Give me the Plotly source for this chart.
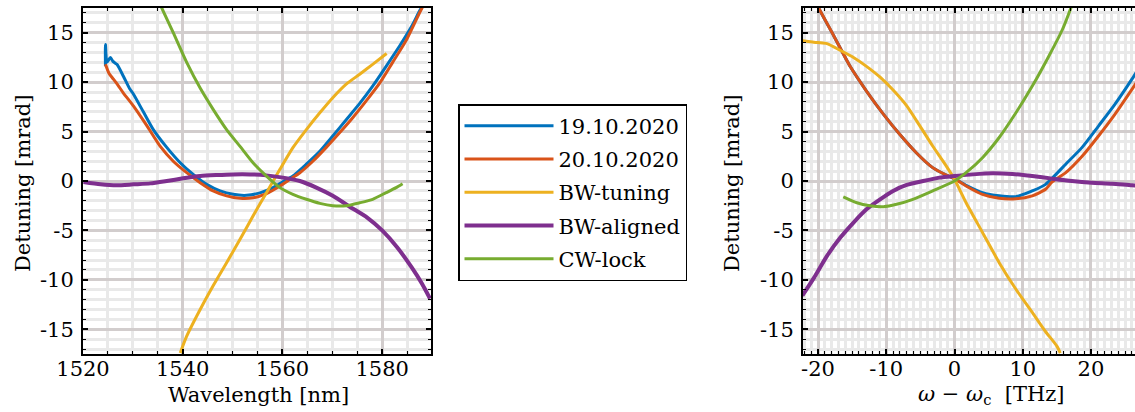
import plotly.graph_objects as go

# ---- Detuning vs. wavelength (left panel) ----
wl_0919 = [1524.5, 1524.5, 1524.8, 1525.5, 1526.0, 1526.8, 1528.1, 1529.4, 1530.1, 1532.1,
           1534.1, 1536.8, 1539.5, 1542.1, 1544.8, 1547.5, 1550.1, 1552.8, 1555.5, 1558.1,
           1560.0, 1562.1, 1564.8, 1567.5, 1570.1, 1572.8, 1575.5, 1578.1, 1580.8, 1583.5,
           1586.1, 1587.5, 1588.5]
det_0919 = [11.6, 13.8, 12.0, 12.5, 12.1, 11.8, 10.6, 9.3, 8.8, 7.0,
            5.2, 3.4, 1.85, 0.67, -0.34, -1.0, -1.35, -1.45, -1.2, -0.67,
            -0.1, 0.5, 1.7, 3.0, 4.55, 6.2, 7.85, 9.6, 11.6, 13.65,
            15.8, 17.2, 18.0]

wl_2010 = [1524.5, 1525.2, 1526.1, 1527.0, 1528.1, 1530.1, 1532.8, 1535.5, 1538.1, 1540.8,
           1543.5, 1546.1, 1548.8, 1551.5, 1554.1, 1556.8, 1559.5, 1561.5, 1563.5, 1566.1,
           1568.8, 1571.5, 1574.1, 1576.8, 1579.5, 1582.1, 1584.8, 1587.5, 1588.5]
det_2010 = [11.8, 10.9, 10.3, 9.7, 8.9, 7.6, 5.6, 3.5, 2.0, 0.84,
            -0.17, -1.0, -1.5, -1.75, -1.7, -1.28, -0.5, 0.17, 0.84, 2.0,
            3.4, 4.9, 6.4, 8.1, 9.9, 12.0, 14.2, 17.0, 18.0]

wl_bwt = [1539.5, 1540.8, 1543.5, 1546.1, 1548.8, 1551.5, 1554.1, 1556.8, 1559.5, 1562.1,
          1564.8, 1567.5, 1570.1, 1572.8, 1575.5, 1578.1, 1580.9]
det_bwt = [-17.4, -15.7, -13.0, -10.6, -8.26, -5.9, -3.54, -1.18, 1.18, 3.37,
           5.2, 6.9, 8.43, 9.8, 10.8, 11.8, 12.9]

wl_bwa = [1520.1, 1523.5, 1526.8, 1530.1, 1533.5, 1536.8, 1540.1, 1543.5, 1546.8, 1550.1,
          1553.5, 1556.8, 1560.1, 1563.5, 1566.8, 1570.1, 1573.5, 1577.0, 1580.0, 1583.0,
          1586.0, 1588.0, 1589.6]
det_bwa = [-0.1, -0.34, -0.44, -0.34, -0.24, 0.0, 0.27, 0.5, 0.6, 0.67,
           0.67, 0.57, 0.34, 0.0, -0.67, -1.5, -2.6, -3.7, -5.0, -6.7,
           -8.8, -10.4, -11.9]

wl_cw = [1535.0, 1535.8, 1538.1, 1540.8, 1543.5, 1546.1, 1548.8, 1551.5, 1554.1, 1556.8,
         1559.5, 1562.1, 1564.8, 1567.5, 1570.1, 1572.8, 1575.5, 1578.1, 1580.8, 1582.8,
         1584.1]
det_cw = [18.3, 17.5, 15.0, 12.0, 9.4, 7.25, 5.2, 3.5, 1.85, 0.5,
          -0.67, -1.35, -1.85, -2.26, -2.5, -2.5, -2.2, -1.85, -1.18, -0.67,
          -0.27]

# ---- Detuning vs. angular frequency offset (right panel) ----
om_0919 = [-20.8, -19.9, -17.7, -15.3, -12.9, -10.4, -8.0, -5.6, -3.2, -1.2,
           0.0, 1.7, 4.1, 6.55, 9.0, 11.4, 13.35, 16.3, 18.7, 21.1, 23.5, 26.0, 27.0]
det_om_0919 = [19.0, 17.5, 14.7, 11.6, 9.1, 6.74, 4.7, 2.86, 1.35, 0.6,
               0.24, -0.44, -1.18, -1.5, -1.58, -1.0, -0.34, 1.7, 3.4, 5.56, 7.75, 10.3, 11.4]

om_2010 = [-20.6, -19.9, -17.7, -15.3, -12.9, -10.4, -8.0, -5.6, -3.2, -1.2,
           0.0, 1.7, 4.1, 6.55, 9.0, 11.4, 13.35, 14.3, 16.3, 18.7, 21.1, 23.5, 26.0, 27.0]
det_om_2010 = [18.5, 17.5, 14.7, 11.6, 9.1, 6.74, 4.7, 2.86, 1.35, 0.6,
               0.24, -0.5, -1.35, -1.75, -1.8, -1.5, -0.84, -0.1, 0.84, 2.5, 4.55, 6.74, 9.27, 10.3]

om_bwt = [-22.3, -20.1, -18.7, -16.7, -14.8, -12.9, -10.9, -9.0, -7.0, -5.1,
          -3.2, -1.2, 0.0, 1.7, 4.1, 6.55, 9.0, 11.4, 13.3, 15.0, 15.5]
det_om_bwt = [14.2, 14.0, 13.9, 13.2, 12.5, 11.6, 10.5, 9.2, 7.6, 5.6,
              3.54, 1.5, 0.17, -2.2, -5.2, -8.26, -10.95, -13.3, -15.2, -16.7, -17.4]

om_bwa = [-22.3, -20.6, -18.7, -16.7, -14.8, -12.9, -10.9, -9.0, -7.0, -4.6,
          -2.2, 0.0, 2.7, 5.6, 8.5, 11.4, 14.3, 17.2, 20.1, 23.1, 26.0, 27.0]
det_om_bwa = [-11.6, -9.8, -7.6, -5.7, -4.2, -2.86, -1.85, -1.0, -0.4, 0.0,
              0.34, 0.5, 0.67, 0.78, 0.7, 0.5, 0.24, 0.0, -0.17, -0.27, -0.44, -0.47]

om_cw = [-16.3, -14.3, -12.4, -10.4, -8.5, -6.1, -3.2, 0.0, 1.7, 4.1,
         6.55, 9.0, 11.4, 13.8, 15.8, 17.0, 17.5]
det_om_cw = [-1.6, -2.2, -2.5, -2.6, -2.36, -1.85, -1.0, 0.0, 0.84, 2.36,
             4.4, 6.9, 9.6, 12.6, 15.3, 17.4, 18.4]

series_names = ["19.10.2020", "20.10.2020", "BW-tuning", "BW-aligned", "CW-lock"]
series_colors = ["#0072BD", "#D95319", "#EDB120", "#7E2F8E", "#77AC30"]
series_widths = [3, 3, 3, 4, 3]

y_ticks = [-15, -10, -5, 0, 5, 10, 15]
wl_ticks = [1520, 1540, 1560, 1580]
om_ticks = [-20, -10, 0, 10, 20]

left_data = [(wl_0919, det_0919), (wl_2010, det_2010), (wl_bwt, det_bwt),
             (wl_bwa, det_bwa), (wl_cw, det_cw)]
right_data = [(om_0919, det_om_0919), (om_2010, det_om_2010), (om_bwt, det_om_bwt),
              (om_bwa, det_om_bwa), (om_cw, det_om_cw)]

FONT = "DejaVu Serif"
FS = 21
MAJOR_GRID = "rgb(210,205,205)"
MINOR_GRID = "rgb(233,233,233)"
TXT = dict(family=FONT, size=FS, color="black")


def label(v):
    return str(v).replace("\u2212", "-")


fig = go.Figure()

for (x, y), name, color, w in zip(left_data, series_names, series_colors, series_widths):
    fig.add_trace(go.Scatter(x=x, y=y, mode="lines", name=name, legendgroup=name,
                             line=dict(color=color, width=w, shape="spline", smoothing=0.6),
                             xaxis="x", yaxis="y", showlegend=True))

for (x, y), name, color, w in zip(right_data, series_names, series_colors, series_widths):
    fig.add_trace(go.Scatter(x=x, y=y, mode="lines", name=name, legendgroup=name,
                             line=dict(color=color, width=w, shape="spline", smoothing=0.6),
                             xaxis="x2", yaxis="y2", showlegend=False))

# empty traces so the tick-label axes (x3, x4) get their own subplots and are drawn
fig.add_trace(go.Scatter(x=[], y=[], xaxis="x3", yaxis="y", showlegend=False, hoverinfo="skip"))
fig.add_trace(go.Scatter(x=[], y=[], xaxis="x4", yaxis="y2", showlegend=False, hoverinfo="skip"))

W, H = 1135, 412
ydom = [1 - 354 / H, 1 - 8 / H]
label_row = 1 - 354 / H   # position of the x tick-label rows

axis_common = dict(
    showline=True, linecolor="black", linewidth=2,
    ticks="inside", ticklen=5, tickwidth=1.5, tickcolor="black",
    showgrid=True, gridcolor=MAJOR_GRID, gridwidth=2.5,
    zeroline=False, automargin=False,
    tickfont=TXT,
    tickmode="array",
)
minor_common = dict(ticks="inside", ticklen=3, tickwidth=1.2, tickcolor="black",
                    showgrid=True, gridcolor=MINOR_GRID, gridwidth=2.5)
label_axis = dict(
    anchor="free", position=label_row, side="bottom", showline=False, ticks="",
    showgrid=False, zeroline=False, automargin=False, tickfont=TXT, tickmode="array",
)

wl_range = [1520, 1589.8]
om_range = [-22.2, 26.45]

fig.update_layout(
    width=W, height=H,
    margin=dict(l=0, r=0, t=0, b=0),
    paper_bgcolor="white", plot_bgcolor="white",
    font=TXT,
    xaxis=dict(
        domain=[83 / W, 431 / W], range=wl_range, anchor="y",
        tickvals=wl_ticks, showticklabels=False, mirror="ticks",
        minor=dict(dtick=5, tick0=1520, **minor_common),
        **axis_common,
    ),
    xaxis3=dict(
        domain=[83 / W, 431 / W], range=wl_range, overlaying="x",
        tickvals=wl_ticks, ticktext=[label(v) for v in wl_ticks],
        **label_axis,
    ),
    yaxis=dict(
        domain=ydom, range=[-17.5, 17.5], anchor="x",
        tickvals=y_ticks, ticktext=[label(v) for v in y_ticks],
        mirror="ticks", ticklabelstandoff=3,
        minor=dict(dtick=1, tick0=0, **minor_common),
        **axis_common,
    ),
    xaxis2=dict(
        domain=[803 / W, 1.0], range=om_range, anchor="y2",
        tickvals=om_ticks, showticklabels=False, mirror="ticks",
        minor=dict(dtick=1, tick0=0, **minor_common),
        **axis_common,
    ),
    xaxis4=dict(
        domain=[803 / W, 1.0], range=om_range, overlaying="x2",
        tickvals=om_ticks, ticktext=[label(v) for v in om_ticks],
        **label_axis,
    ),
    yaxis2=dict(
        domain=ydom, range=[-17.5, 17.5], anchor="x2",
        tickvals=y_ticks, ticktext=[label(v) for v in y_ticks],
        mirror=False, ticklabelstandoff=3,
        minor=dict(dtick=1, tick0=0, **minor_common),
        **axis_common,
    ),
    legend=dict(
        x=458 / W, y=1 - 104 / H, xanchor="left", yanchor="top",
        bgcolor="white", bordercolor="black", borderwidth=1.5,
        font=TXT, itemwidth=89, tracegroupgap=3,
    ),
    annotations=[
        dict(text="Wavelength [nm]", x=258 / W, y=1 - 395 / H,
             xref="paper", yref="paper", xanchor="center", yanchor="middle",
             showarrow=False, font=TXT),
        dict(text="<i>ω</i> − <i>ω</i><sub>c</sub>  [THz]", x=991 / W, y=1 - 395 / H,
             xref="paper", yref="paper", xanchor="center", yanchor="middle",
             showarrow=False, font=TXT),
        dict(text="Detuning [mrad]", x=23 / W, y=1 - 184 / H, textangle=-90,
             xref="paper", yref="paper", xanchor="center", yanchor="middle",
             showarrow=False, font=TXT),
        dict(text="Detuning [mrad]", x=732 / W, y=1 - 184 / H, textangle=-90,
             xref="paper", yref="paper", xanchor="center", yanchor="middle",
             showarrow=False, font=TXT),
    ],
)

fig.write_html("out.html")
